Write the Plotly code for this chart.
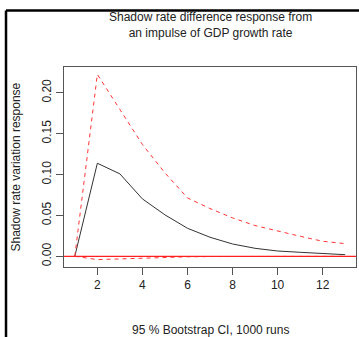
import plotly.graph_objects as go

# Impulse response horizon (periods)
horizon = list(range(1, 14))

# Point response of the shadow rate to a GDP growth impulse
response = [0.0, 0.1138, 0.1008, 0.0702, 0.0507, 0.0343, 0.0233,
            0.0151, 0.0098, 0.0065, 0.0049, 0.0037, 0.0020]

# Bootstrap confidence bands
upper_band = [0.0, 0.2224, 0.1796, 0.1367, 0.1020, 0.0714, 0.0584,
              0.0470, 0.0376, 0.0306, 0.0245, 0.0184, 0.0155]
lower_band = [0.0, -0.0040, -0.0032, -0.0022, -0.0012, -0.0006, -0.0003,
              -0.0002, -0.0001, -0.0001, 0.0, 0.0, 0.0]

x_ticks = [2, 4, 6, 8, 10, 12]
y_ticks = [0.00, 0.05, 0.10, 0.15, 0.20]

title_lines = ["Shadow rate difference response from", "an impulse of GDP growth rate"]
y_title = "Shadow rate variation response"
x_note = "95 % Bootstrap CI, 1000 runs"

FONT = "Liberation Sans, Arial, sans-serif"
TEXT = "#222222"

# R-style 4% padding around the data range
all_y = response + upper_band + lower_band
ymin, ymax = min(all_y), max(all_y)
ypad = 0.04 * (ymax - ymin)
xmin, xmax = min(horizon), max(horizon)
xpad = 0.04 * (xmax - xmin)

fig = go.Figure()
fig.add_trace(go.Scatter(x=horizon, y=response, mode="lines",
                         line=dict(color="#333333", width=1)))
fig.add_trace(go.Scatter(x=horizon, y=upper_band, mode="lines",
                         line=dict(color="#ff3333", width=1, dash="4px,4px")))
fig.add_trace(go.Scatter(x=horizon, y=lower_band, mode="lines",
                         line=dict(color="#ff3333", width=1, dash="4px,4px")))
# zero reference line
fig.add_shape(type="line", xref="paper", x0=0, x1=1, yref="y", y0=0, y1=0,
              line=dict(color="#ff2020", width=1.2))

# outer frame pieces (top and left edges)
fig.add_shape(type="line", xref="paper", yref="paper", x0=-0.1986, x1=1.02,
              y0=1.2825, y1=1.2825, line=dict(color="black", width=2.5))
fig.add_shape(type="line", xref="paper", yref="paper", x0=-0.1986, x1=-0.1986,
              y0=1.2825, y1=-0.36, line=dict(color="black", width=2.5))

axis_common = dict(showline=True, mirror=True, linecolor="#555555", linewidth=1,
                   ticks="outside", ticklen=7, tickcolor="#555555", tickwidth=1,
                   showgrid=False, zeroline=False,
                   tickfont=dict(family=FONT, size=12, color=TEXT))

fig.update_layout(
    width=359, height=337,
    margin=dict(l=64, r=3, t=67, b=70),
    paper_bgcolor="white", plot_bgcolor="white",
    showlegend=False,
    xaxis=dict(range=[xmin - xpad, xmax + xpad], tickvals=x_ticks, **axis_common),
    yaxis=dict(range=[ymin - ypad, ymax + ypad], tickvals=y_ticks,
               tickformat=".2f", tickangle=-90, **axis_common),
    annotations=[
        dict(text="<br>".join(title_lines), xref="paper", yref="paper",
             x=0.5, y=(267 - 25) / 200, xanchor="center", yanchor="middle",
             showarrow=False, font=dict(family=FONT, size=12, color=TEXT)),
        dict(text=y_title, xref="paper", yref="paper", x=(15 - 64) / 292,
             y=0.4975, textangle=-90, xanchor="center", yanchor="middle",
             showarrow=False, font=dict(family=FONT, size=12, color=TEXT)),
        dict(text=x_note, xref="paper", yref="paper", x=0.5,
             y=(267 - 329.5) / 200, xanchor="center", yanchor="middle",
             showarrow=False, font=dict(family=FONT, size=12, color=TEXT)),
    ],
)

fig.write_html("out.html")
